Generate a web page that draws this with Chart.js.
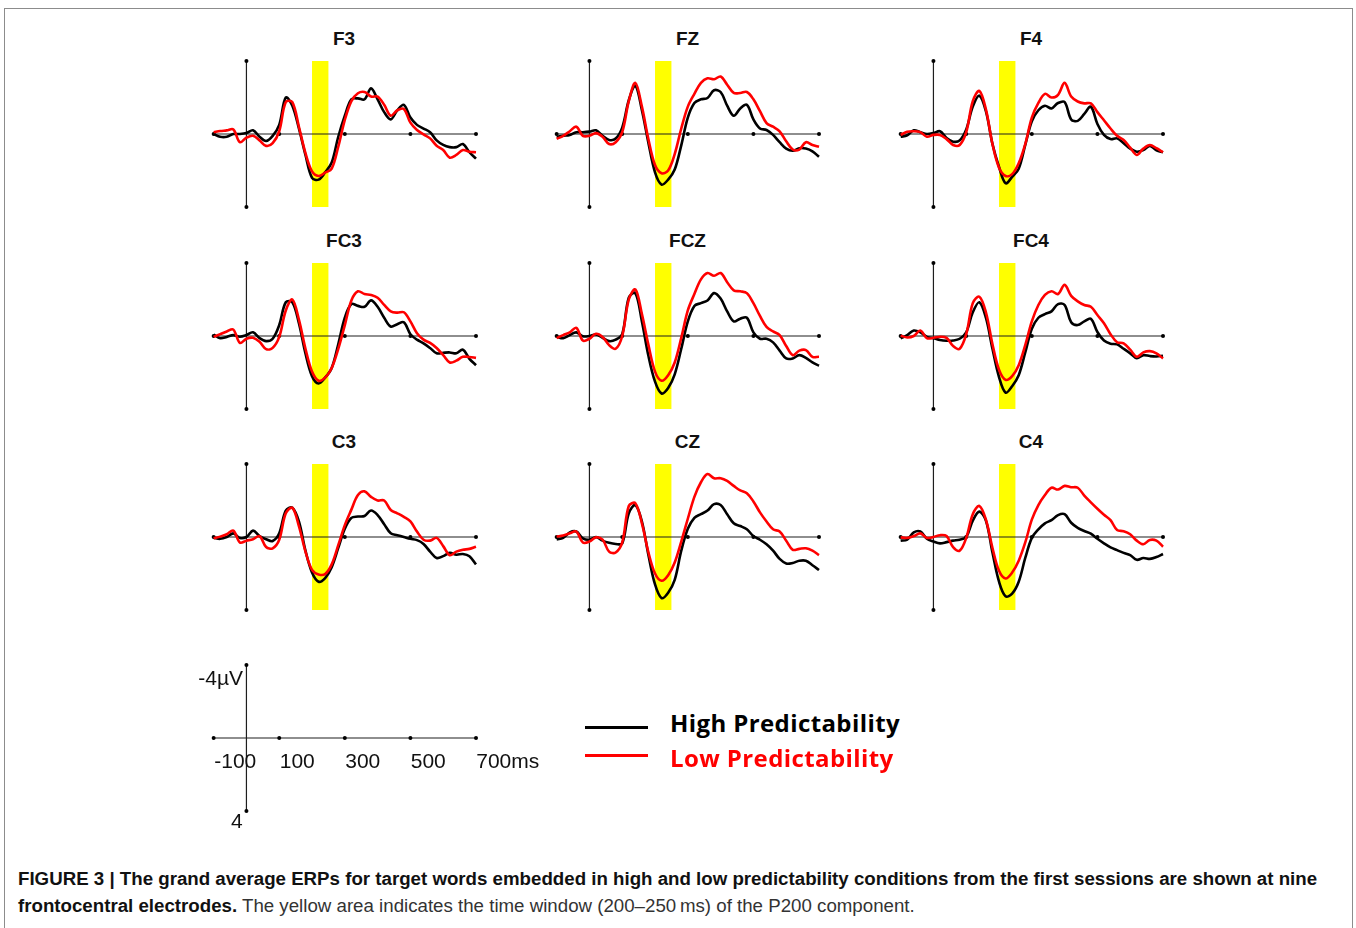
<!DOCTYPE html>
<html><head><meta charset="utf-8">
<script src="https://cdn.jsdelivr.net/npm/chart.js@4.4.1/dist/chart.umd.min.js"></script>
<style>
html,body{margin:0;padding:0;background:#fff;width:1356px;height:928px;overflow:hidden;font-family:Arial,"Liberation Sans",sans-serif;}
.frame{position:absolute;left:4px;top:8px;width:1347px;height:940px;border:1px solid #8c8c8c;}
canvas{position:absolute;}
.t{position:absolute;white-space:nowrap;line-height:1;}
.title{font-weight:bold;font-size:19px;color:#111;transform:translate(-50%,-50%);}
.sl{font-size:21px;color:#111;transform:translateY(-50%);}
.leg{font-family:"Open Sans",Lato,sans-serif;font-weight:bold;font-size:24px;transform:translateY(-50%);letter-spacing:0.4px;}
.legline{position:absolute;height:3px;}
.cap{position:absolute;left:18px;font-size:18.7px;color:#333;white-space:nowrap;line-height:1;}
.cap b{color:#111;}
</style></head>
<body>
<div class="frame"></div>
<div id="root"></div>
<script>
// ---------- data ----------
const times = [-100,-80,-60,-40,-20,0,20,40,60,80,100,120,140,160,180,200,220,240,260,280,300,320,340,360,380,400,420,440,460,480,500,520,540,560,580,600,620,640,660,680,700];
const electrodes = ['F3','FZ','F4','FC3','FCZ','FC4','C3','CZ','C4'];
const seriesNames = ['High Predictability','Low Predictability'];
const windowMs = [200,250];
const scaleXTicks = [-100,100,300,500,700];
const scaleXLabels = ['-100','100','300','500','700'];
const scaleYLabels = ['-4\u00b5V','4'];

const F3_high = [0,0.15,0.15,0,0,-0.05,-0.2,0.15,0.38,0.1,-0.5,-2.0,-1.55,-0.3,1.15,2.4,2.5,2.1,1.56,0.15,-1.0,-1.9,-1.95,-1.9,-2.5,-1.9,-1.2,-0.8,-1.3,-1.6,-0.9,-0.5,-0.3,-0.1,0.35,0.6,0.72,0.72,0.55,1.0,1.35];
const F3_low = [-0.1,-0.16,-0.2,-0.25,0.45,0.2,0.1,0.35,0.65,0.5,-0.15,-1.75,-1.75,-0.4,1.05,2.05,2.3,2.12,1.9,0.7,-0.77,-1.8,-2.23,-2.3,-2.05,-2.05,-1.6,-1.0,-1.3,-1.37,-0.62,-0.22,0.02,0.24,0.64,0.88,1.3,1.15,0.88,0.97,1.0];
const FZ_high = [0.15,0.1,0.05,-0.1,-0.1,-0.13,-0.2,0.1,0.33,0.25,-0.35,-1.85,-2.65,-1.3,0.5,2.1,2.77,2.5,1.95,0.62,-0.9,-1.7,-1.9,-1.97,-2.4,-2.3,-1.55,-1.0,-1.4,-1.6,-0.8,-0.3,-0.22,0.05,0.45,0.8,0.92,0.78,0.8,0.95,1.25];
const FZ_low = [0.27,0.1,-0.15,-0.4,0.1,0.1,-0.05,0.15,0.55,0.45,-0.1,-1.8,-2.8,-1.5,0.3,1.7,2.15,2.0,1.1,-0.3,-1.5,-2.2,-2.8,-3.05,-3.0,-3.15,-2.7,-2.25,-2.25,-2.3,-1.9,-1.25,-0.6,-0.4,-0.15,0.4,0.85,0.85,0.45,0.6,0.7];
const F4_high = [0.15,0.07,-0.2,-0.1,0.0,-0.05,-0.15,0.22,0.42,0.35,-0.25,-1.5,-2.1,-1.25,0.55,1.8,2.7,2.35,1.9,0.6,-0.7,-1.3,-1.55,-1.4,-1.7,-1.75,-0.8,-0.72,-1.1,-1.5,-0.55,0.05,0.28,0.24,0.5,0.8,0.97,0.88,0.65,0.9,1.0];
const F4_low = [0.05,-0.12,-0.15,-0.1,0.15,0.05,0.05,0.28,0.6,0.6,-0.1,-1.8,-2.36,-1.35,0.55,1.85,2.3,2.2,1.6,0.55,-0.9,-1.7,-2.2,-2.0,-2.15,-2.8,-2.05,-1.78,-1.68,-1.68,-1.2,-0.75,-0.3,0.1,0.33,0.75,1.15,0.8,0.6,0.78,1.0];
const FC3_high = [-0.08,0.12,0.05,-0.05,0.04,-0.05,-0.2,0.12,0.28,0.15,-0.6,-1.85,-1.85,-0.7,0.95,2.2,2.6,2.28,1.75,0.45,-1.0,-1.75,-1.65,-1.6,-1.95,-1.6,-1.0,-0.52,-0.65,-0.75,-0.1,0.2,0.4,0.66,0.95,0.92,0.9,0.95,0.75,1.25,1.6];
const FC3_low = [0.05,-0.1,-0.25,-0.35,0.38,0.15,0.1,0.32,0.72,0.65,0.05,-1.4,-2.0,-0.9,0.7,1.95,2.45,2.28,1.75,0.7,-0.6,-1.95,-2.45,-2.3,-2.25,-2.1,-1.7,-1.35,-1.28,-1.3,-0.8,-0.15,0.2,0.38,0.66,1.05,1.45,1.35,1.14,1.15,1.2];
const FCZ_high = [0.04,0.12,-0.05,-0.2,0.02,0.0,-0.08,0.1,0.28,0.2,-0.1,-2.1,-2.35,-0.8,1.1,2.5,3.15,2.85,2.1,0.7,-0.8,-1.65,-1.8,-1.95,-2.35,-2.05,-1.35,-0.8,-0.95,-1.0,-0.2,0.15,0.15,0.35,0.8,1.23,1.23,1.05,1.2,1.45,1.63];
const FCZ_low = [0.12,-0.05,-0.2,-0.45,0.25,0.15,-0.12,0.05,0.5,0.7,0.0,-2.0,-2.55,-1.2,0.5,1.95,2.45,2.15,1.45,0.1,-1.4,-2.3,-3.1,-3.45,-3.3,-3.45,-2.95,-2.5,-2.45,-2.35,-1.8,-1.1,-0.5,-0.25,-0.05,0.55,1.05,0.8,0.77,1.14,1.14];
const FC4_high = [0.13,-0.05,-0.3,-0.2,0.05,0.12,0.22,0.26,0.25,0.15,-0.2,-1.3,-1.85,-1.0,0.7,2.25,3.1,2.75,2.15,0.9,-0.4,-1.0,-1.2,-1.35,-1.75,-1.7,-0.75,-0.6,-0.8,-0.95,-0.22,0.25,0.42,0.46,0.7,0.95,1.22,1.05,1.1,1.12,1.08];
const FC4_low = [-0.02,0.08,0.0,-0.3,0.12,0.1,0.04,0.1,0.55,0.7,-0.1,-1.8,-2.15,-1.3,0.45,1.85,2.4,2.2,1.6,0.5,-0.8,-1.7,-2.25,-2.45,-2.3,-2.8,-2.2,-1.9,-1.7,-1.6,-1.15,-0.7,-0.1,0.34,0.4,0.75,1.14,0.9,0.83,0.95,1.23];
const C3_high = [0.04,0.1,0.0,-0.2,0.05,0.0,-0.35,-0.05,0.12,0.22,-0.2,-1.45,-1.6,-0.85,0.75,1.95,2.45,2.25,1.65,0.6,-0.45,-1.05,-1.12,-1.15,-1.45,-1.2,-0.7,-0.2,-0.1,0.0,0.1,0.17,0.38,0.8,1.15,1.05,0.87,0.97,0.93,1.05,1.5];
const C3_low = [0.08,-0.02,-0.15,-0.35,0.3,0.2,0.12,-0.05,0.55,0.62,0.15,-1.3,-1.6,-0.6,0.8,1.8,2.05,2.03,1.5,0.45,-0.65,-1.5,-2.3,-2.5,-2.2,-2.0,-2.0,-1.48,-1.3,-1.1,-0.85,-0.3,0.15,0.2,0.05,0.5,1.0,0.8,0.7,0.65,0.53];
const CZ_high = [0.13,0.05,-0.25,-0.3,0.07,0.15,0.0,0.2,0.32,0.38,0.35,-1.3,-1.75,-0.85,1.0,2.6,3.35,3.05,2.35,0.75,-0.45,-1.05,-1.25,-1.45,-1.8,-1.75,-1.25,-0.75,-0.6,-0.42,-0.05,0.15,0.4,0.75,1.2,1.45,1.42,1.3,1.3,1.55,1.81];
const CZ_low = [-0.02,-0.08,-0.2,-0.3,0.3,0.25,0.02,0.15,0.8,0.85,0.3,-1.7,-1.85,-0.75,0.85,2.0,2.4,2.1,1.4,0.25,-1.0,-2.2,-3.0,-3.45,-3.22,-3.22,-3.07,-2.8,-2.55,-2.4,-1.95,-1.35,-0.85,-0.42,-0.3,0.2,0.7,0.65,0.62,0.75,0.99];
const C4_high = [0.2,0.15,-0.25,-0.3,0.1,0.25,0.35,0.28,0.2,0.15,0.0,-0.9,-1.39,-0.9,0.85,2.45,3.25,3.1,2.45,1.15,0.05,-0.42,-0.75,-0.92,-1.2,-1.25,-0.78,-0.5,-0.33,-0.18,0.1,0.35,0.57,0.72,0.87,0.99,1.25,1.15,1.2,1.1,0.93];
const C4_low = [0.02,0.05,-0.05,-0.2,0.05,0.0,-0.1,-0.05,0.55,0.75,0.05,-1.25,-1.7,-0.95,0.6,1.85,2.27,1.95,1.3,0.3,-0.95,-1.75,-2.3,-2.7,-2.6,-2.8,-2.73,-2.7,-2.27,-1.9,-1.55,-1.22,-0.92,-0.38,-0.32,-0.15,0.2,0.4,0.16,0.2,0.53];

const highSeries = [F3_high,FZ_high,F4_high,FC3_high,FCZ_high,FC4_high,C3_high,CZ_high,C4_high];
const lowSeries  = [F3_low,FZ_low,F4_low,FC3_low,FCZ_low,FC4_low,C3_low,CZ_low,C4_low];

// ---------- layout ----------
const K = 0.3275;            // px per ms
const XMIN = -105, XMAX = 700, YMIN = -4, YMAX = 4;
const HALF = 73;             // px for 4 uV
const PAD = 6;
const colX = [246, 589.5, 933];
const rowY = [134, 335.7, 537];
const HIGH_COLOR = '#000000', LOW_COLOR = '#ff0000', BAND_COLOR = '#ffff00', AXIS_COLOR = '#1e1e1e';

const bandPlugin = {
  id: 'band',
  beforeDatasetsDraw(chart, args, opts) {
    if (!opts || !opts.show) return;
    const {ctx, scales: {x, y}} = chart;
    const x1 = x.getPixelForValue(windowMs[0]), x2 = x.getPixelForValue(windowMs[1]);
    const y1 = y.getPixelForValue(YMIN), y2 = y.getPixelForValue(YMAX);
    ctx.save();
    ctx.fillStyle = BAND_COLOR;
    ctx.fillRect(x1, Math.min(y1, y2), x2 - x1, Math.abs(y2 - y1));
    ctx.restore();
  }
};

const root = document.getElementById('root');
function addText(cls, txt, left, top, style) {
  const d = document.createElement('div');
  d.className = 't ' + cls;
  d.textContent = txt;
  d.style.left = left + 'px';
  d.style.top = top + 'px';
  if (style) Object.assign(d.style, style);
  root.appendChild(d);
  return d;
}

function axisDatasets() {
  return [
    {data: scaleXTicks.map(t => ({x: t, y: 0})), borderColor: AXIS_COLOR, borderWidth: 1.2, tension: 0,
     pointRadius: 2, pointBackgroundColor: '#000', pointBorderWidth: 0, clip: false},
    {data: [{x: 0, y: YMIN}, {x: 0, y: YMAX}], borderColor: AXIS_COLOR, borderWidth: 1.2, tension: 0,
     pointRadius: 2, pointBackgroundColor: '#000', pointBorderWidth: 0, clip: false}
  ];
}

function makeChart(X0, Y0, datasets, band) {
  const c = document.createElement('canvas');
  const w = Math.round((XMAX - XMIN) * K) + 2 * PAD;
  const h = 2 * HALF + 2 * PAD;
  c.width = w; c.height = h;
  c.style.width = w + 'px'; c.style.height = h + 'px';
  c.style.left = Math.round(X0 + XMIN * K - PAD) + 'px';
  c.style.top = Math.round(Y0 - HALF - PAD) + 'px';
  root.appendChild(c);
  new Chart(c, {
    type: 'line',
    data: {datasets},
    options: {
      responsive: false, animation: false, events: [], devicePixelRatio: 1,
      layout: {padding: PAD},
      plugins: {legend: {display: false}, tooltip: {enabled: false}, band: {show: band}},
      scales: {
        x: {type: 'linear', min: XMIN, max: XMAX, display: false},
        y: {min: YMIN, max: YMAX, reverse: true, display: false}
      }
    },
    plugins: [bandPlugin]
  });
}

electrodes.forEach((name, i) => {
  const X0 = colX[i % 3], Y0 = rowY[Math.floor(i / 3)];
  const ds = [
    {label: seriesNames[1], data: times.map((t, j) => ({x: t, y: lowSeries[i][j]})), borderColor: LOW_COLOR,
     borderWidth: 2.6, pointRadius: 0, tension: 0.35, clip: false},
    {label: seriesNames[0], data: times.map((t, j) => ({x: t, y: highSeries[i][j]})), borderColor: HIGH_COLOR,
     borderWidth: 2.6, pointRadius: 0, tension: 0.35, clip: false},
    ...axisDatasets()
  ];
  makeChart(X0, Y0, ds, true);
  addText('title', name, X0 + 98, Y0 - 96);
});

// scale bar chart
makeChart(246, 738, axisDatasets(), false);
scaleXTicks.forEach((t, i) => {
  const px = 246 + t * K;
  addText('sl', scaleXLabels[i] + (i === scaleXTicks.length - 1 ? 'ms' : ''), px + 1, 760);
});
addText('sl', scaleYLabels[0], 196, 677, {width: '47px', textAlign: 'right'});
addText('sl', scaleYLabels[1], 231, 820);

// legend
const lg1 = document.createElement('div'); lg1.className = 'legline';
Object.assign(lg1.style, {left: '585px', top: '726px', width: '63px', height: '3px', background: HIGH_COLOR});
root.appendChild(lg1);
const lg2 = document.createElement('div'); lg2.className = 'legline';
Object.assign(lg2.style, {left: '585px', top: '754px', width: '63px', height: '2.5px', background: LOW_COLOR});
root.appendChild(lg2);
addText('leg', seriesNames[0], 670, 723, {color: HIGH_COLOR});
addText('leg', seriesNames[1], 670, 758, {color: LOW_COLOR});

// caption
const cap1 = document.createElement('div'); cap1.className = 'cap'; cap1.style.top = '870px';
cap1.innerHTML = '<b>FIGURE 3 | The grand average ERPs for target words embedded in high and low predictability conditions from the first sessions are shown at nine</b>';
root.appendChild(cap1);
const cap2 = document.createElement('div'); cap2.className = 'cap'; cap2.style.top = '897px';
cap2.innerHTML = '<b>frontocentral electrodes.</b> The yellow area indicates the time window (200\u2013250\u2009ms) of the P200 component.';
root.appendChild(cap2);
</script>
</body></html>
